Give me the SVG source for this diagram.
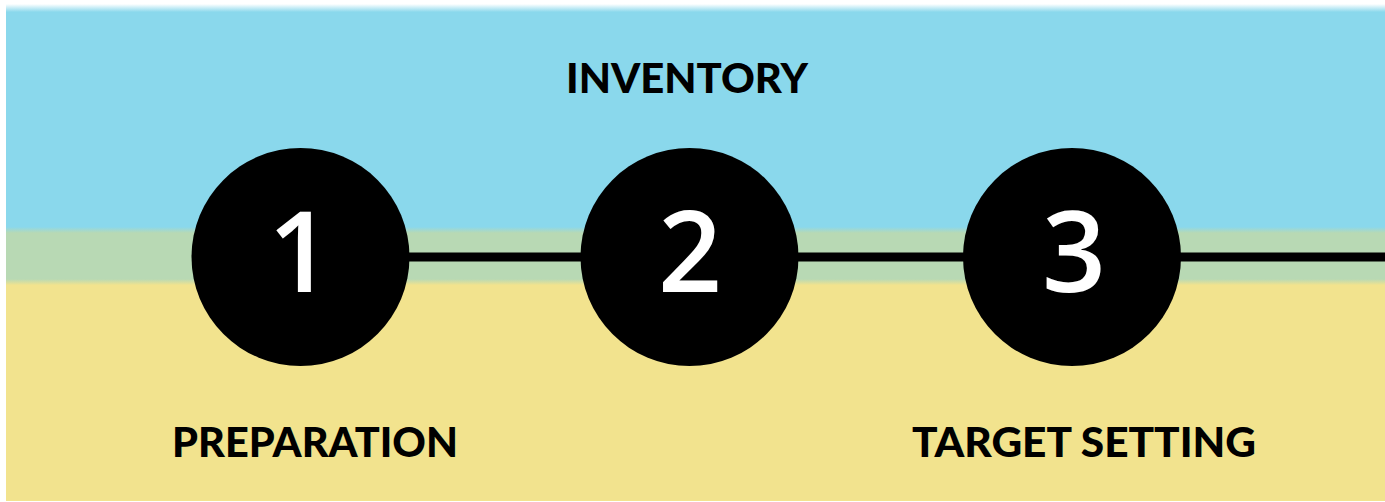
<svg xmlns="http://www.w3.org/2000/svg" width="1385" height="502" viewBox="0 0 1385 502">
<style>
.lbl{font-family:Lato,"Open Sans","Liberation Sans",sans-serif;font-weight:900;font-size:41px;fill:#000;}
.num{font-family:"Open Sans","Noto Sans","Liberation Sans",sans-serif;font-weight:600;font-size:112px;fill:#fff;text-anchor:middle;}
.node{fill:#000;}
</style>
<defs>
<linearGradient id="bg" x1="0" y1="0" x2="0" y2="502" gradientUnits="userSpaceOnUse">
<stop offset="0" stop-color="#ffffff"/>
<stop offset="0.008" stop-color="#ffffff"/>
<stop offset="0.024" stop-color="#8AD8EC"/>
<stop offset="0.452" stop-color="#8AD8EC"/>
<stop offset="0.464" stop-color="#B8D9B4"/>
<stop offset="0.556" stop-color="#B8D9B4"/>
<stop offset="0.568" stop-color="#F2E38E"/>
<stop offset="1" stop-color="#F2E38E"/>
</linearGradient>
</defs>
<rect x="0" y="0" width="1385" height="502" fill="#ffffff"/>
<rect x="6" y="0" width="1379" height="501" fill="url(#bg)"/>
<g id="connectors">
<line x1="300" y1="257" x2="1385" y2="257" stroke="#000" stroke-width="9"/>
</g>
<g id="node1">
<circle class="node" cx="300.5" cy="257" r="109"/>
<text class="num" x="300" y="292">1</text>
</g>
<g id="node2">
<circle class="node" cx="689.5" cy="257" r="109"/>
<text class="num" x="690" y="292">2</text>
</g>
<g id="node3">
<circle class="node" cx="1072" cy="257" r="109"/>
<text class="num" x="1074" y="292">3</text>
</g>
<g id="label-inventory">
<text class="lbl" x="566" y="93" textLength="242" lengthAdjust="spacingAndGlyphs">INVENTORY</text>
</g>
<g id="label-preparation">
<text class="lbl" x="172" y="457" textLength="286" lengthAdjust="spacingAndGlyphs">PREPARATION</text>
</g>
<g id="label-target">
<text class="lbl" x="912" y="457" textLength="344" lengthAdjust="spacingAndGlyphs">TARGET SETTING</text>
</g>
</svg>
